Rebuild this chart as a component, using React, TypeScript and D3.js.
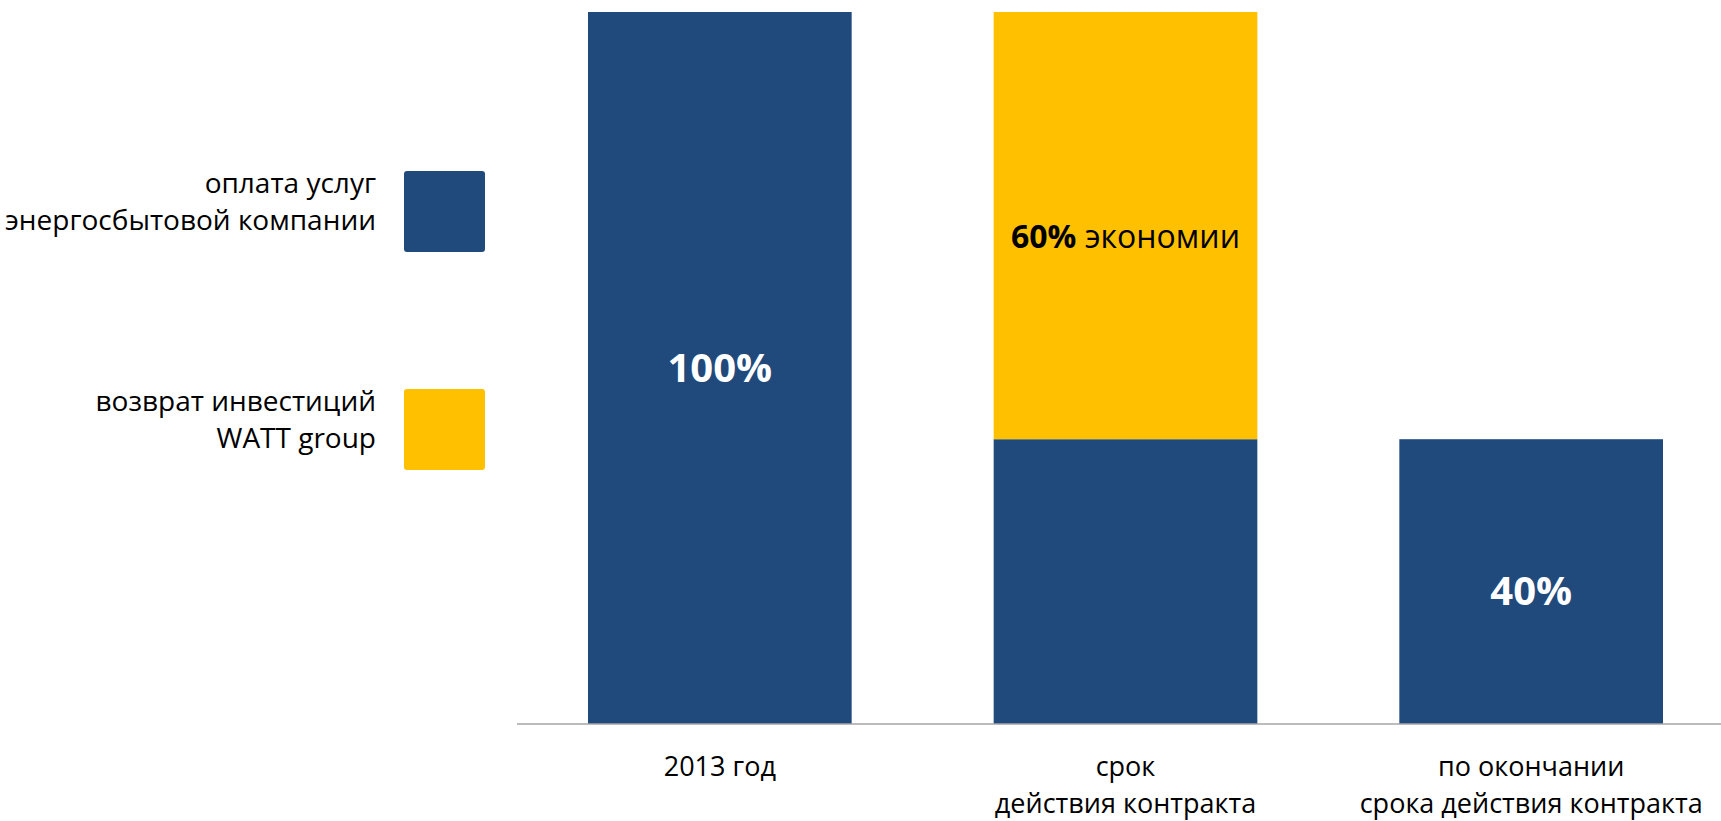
import React from 'react';
import * as d3 from 'd3';

// categories (each label can span two lines)
const categories = ['2013 год', 'срок|действия контракта', 'по окончании|срока действия контракта'];

// series values, percent of the 2013 bill
const utilityPayment = [100, 40, 40];
const investmentReturn = [0, 60, 0];

const seriesNames = ['оплата услуг|энергосбытовой компании', 'возврат инвестиций|WATT group'];
const seriesColors = ['#214a7c', '#ffc000'];

// labels inside the segments: [category, series, bold part, plain part]
const segmentLabels: [number, number, string, string][] = [
  [0, 0, '100%', ''],
  [1, 1, '60%', ' экономии'],
  [2, 0, '40%', ''],
];

const width = 1721;
const height = 821;
const font = '"Open Sans", "Noto Sans", sans-serif';

export default function App() {
  const rows = categories.map((c, i) => ({
    cat: c,
    s0: utilityPayment[i],
    s1: investmentReturn[i],
  }));
  const stacked = d3.stack<any>().keys(['s0', 's1'])(rows);

  const x = d3.scaleBand()
    .domain(categories)
    .range([517, 1734])
    .paddingInner(0.35)
    .paddingOuter(0.175);

  const y = d3.scaleLinear().domain([0, 100]).range([724, 12]);

  // legend placement
  const legendY = [171, 389];

  return (
    <div style={{ position: 'fixed', left: 0, top: 0 }}>
      <svg width={width} height={height} style={{ display: 'block', background: '#fff' }}>
        {/* bars */}
        {stacked.map((layer, si) => (
          <g key={si} fill={seriesColors[si]}>
            {layer.map((d, i) =>
              d[1] - d[0] > 0 ? (
                <rect
                  key={i}
                  x={x(categories[i])}
                  y={y(d[1])}
                  width={x.bandwidth()}
                  height={y(d[0]) - y(d[1])}
                />
              ) : null
            )}
          </g>
        ))}

        {/* baseline */}
        <line x1={517} x2={width} y1={y(0)} y2={y(0)} stroke="#a6a6a6" strokeWidth={1.5} />

        {/* segment labels */}
        {segmentLabels.map(([ci, si, strong, rest], k) => {
          const seg = stacked[si][ci];
          const cx = (x(categories[ci]) || 0) + x.bandwidth() / 2;
          const mid = (y(seg[0]) + y(seg[1])) / 2;
          const isYellow = si === 1;
          return (
            <text
              key={k}
              x={cx}
              y={mid + (rest ? 22 : k === 0 ? 14 : 23)}
              textAnchor="middle"
              fontFamily={font}
              fill={isYellow ? '#000' : '#fff'}
              fontSize={rest ? 32 : 40}
            >
              <tspan fontWeight="bold">{strong}</tspan>
              {rest ? <tspan>{rest}</tspan> : null}
            </text>
          );
        })}

        {/* category labels */}
        {categories.map((c, i) => (
          <text
            key={c}
            x={(x(c) || 0) + x.bandwidth() / 2}
            textAnchor="middle"
            fontFamily={font}
            fontSize={27}
            fill="#000"
          >
            {c.split('|').map((line, li) => (
              <tspan key={li} x={(x(c) || 0) + x.bandwidth() / 2} y={776 + li * 37}>
                {line}
              </tspan>
            ))}
          </text>
        ))}

        {/* legend */}
        {seriesNames.map((name, i) => (
          <g key={name}>
            <rect x={404} y={legendY[i]} width={81} height={81} rx={3} fill={seriesColors[i]} />
            <text textAnchor="end" fontFamily={font} fontSize={28} fill="#000">
              {name.split('|').map((line, li) => (
                <tspan key={li} x={376} y={legendY[i] + 22 + li * 37}>
                  {line}
                </tspan>
              ))}
            </text>
          </g>
        ))}
      </svg>
    </div>
  );
}
